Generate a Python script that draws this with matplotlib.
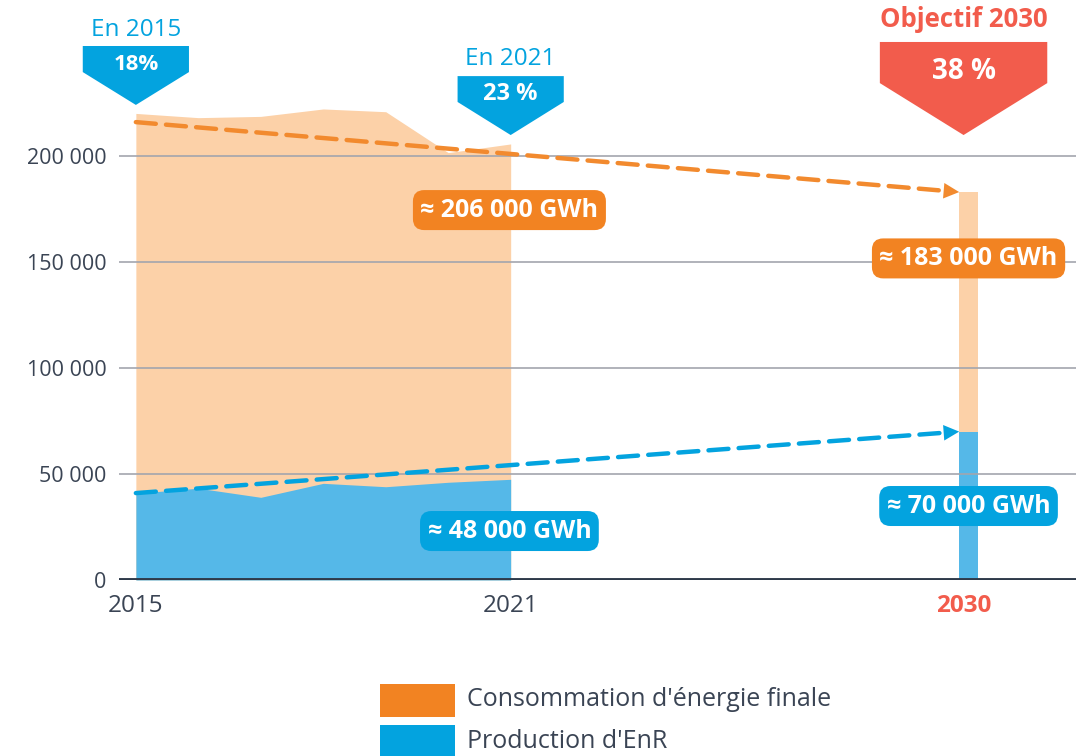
import numpy as np
import matplotlib.pyplot as plt
from matplotlib.patches import Polygon, Rectangle

plt.rcParams['font.family'] = ['Open Sans', 'DejaVu Sans']

# data
years = [2015, 2016, 2017, 2018, 2019, 2020, 2021]
consommation = [220100, 218100, 218700, 222200, 220900, 201600, 205700]
production_enr = [40900, 43300, 39000, 45600, 44000, 46100, 47500]
target_year = 2030
target_consommation = 183000
target_enr = 70000
trend_cons = [216000, 183000]
trend_enr = [41000, 70000]
banner_titles = ['En 2015', 'En 2021', 'Objectif 2030']
banner_values = ['18%', '23 %', '38 %']
label_cons = ['≈ 206 000 GWh', '≈ 183 000 GWh']
label_enr = ['≈ 48 000 GWh', '≈ 70 000 GWh']
yticks = [0, 50000, 100000, 150000, 200000]

# colours
c_orange = '#F28322'
c_orange_light = '#FCD1A8'
c_blue = '#03A3DF'
c_blue_light = '#55B8E8'
c_red = '#F25C4C'
c_text = '#3A4454'

# the x axis is broken: 2015-2021 linear, 2030 placed further right
x = np.array(years) - years[0]
x_2030 = 13.33
bar_w = 0.3

fig = plt.figure(figsize=(10.76, 7.56), dpi=100)
ax = fig.add_axes([119 / 1076, 176 / 756, 1 - 119 / 1076, 580 / 756])
ax.set_xlim(-0.27, 15.05)
ax.set_ylim(0, 273600)

# areas
ax.fill_between(x, 0, consommation, color=c_orange_light, lw=0, zorder=1)
ax.fill_between(x, 0, production_enr, color=c_blue_light, lw=0, zorder=1)

# 2030 target bar
ax.bar(x_2030, target_consommation, width=bar_w, color=c_orange_light, zorder=1)
ax.bar(x_2030, target_enr, width=bar_w, color=c_blue_light, zorder=1)

# grid
for t in yticks[1:]:
    ax.axhline(t, color='#A3A5AE', lw=1.2, zorder=2)
ax.axhline(0, color='#2E3A4A', lw=2.8, zorder=5)

# dashed trends with arrowheads
x_end = x_2030 - bar_w / 2
for vals, col in [(trend_cons, '#F28A2E'), (trend_enr, c_blue)]:
    ax.plot([0, x_end - 0.25], [vals[0], vals[0] + (vals[1] - vals[0]) * (x_end - 0.25) / x_end],
            color=col, lw=3.2, ls=(0, (4.5, 2.3)), solid_capstyle='round',
            dash_capstyle='round', zorder=4)
    ax.annotate('', xy=(x_end, vals[1]),
                xytext=(x_end - 0.4, vals[0] + (vals[1] - vals[0]) * (x_end - 0.4) / x_end),
                arrowprops=dict(arrowstyle='-|>', color=col, lw=0, mutation_scale=28,
                                shrinkA=0, shrinkB=0), zorder=4)

# value labels
def value_box(xp, yp, txt, col):
    ax.text(xp, yp, txt, ha='center', va='center', color='white', fontsize=18,
            fontweight='bold', zorder=6,
            bbox=dict(boxstyle='round,pad=0.3,rounding_size=0.45', fc=col, ec='none'))

value_box(5.98, 174500, label_cons[0], c_orange)
value_box(x_2030, 151700, label_cons[1], c_orange)
value_box(5.98, 23100, label_enr[0], c_blue)
value_box(x_2030, 34900, label_enr[1], c_blue)

# banners (pentagon arrows)
def banner(xc, half_w, top, shoulder, tip, col, title, value, title_col, title_y,
           value_y, title_weight, title_size, value_size):
    poly = Polygon([(xc - half_w, top), (xc + half_w, top), (xc + half_w, shoulder),
                    (xc, tip), (xc - half_w, shoulder)], closed=True, fc=col, ec='none',
                   zorder=6, clip_on=False)
    ax.add_patch(poly)
    ax.text(xc, value_y, value, ha='center', va='center', color='white',
            fontsize=value_size, fontweight='bold', zorder=7)
    ax.text(xc, title_y, title, ha='center', va='center', color=title_col,
            fontsize=title_size, fontweight=title_weight, zorder=7)

banner(0, 0.85, 251900, 239600, 224100, c_blue, banner_titles[0], banner_values[0],
       c_blue, 259400, 243400, 'normal', 17.5, 16)
banner(6, 0.85, 237700, 225500, 209900, c_blue, banner_titles[1], banner_values[1],
       c_blue, 245800, 229300, 'normal', 17.5, 17)
banner(x_2030 - 0.08, 1.34, 253800, 234400, 209900, c_red, banner_titles[2], banner_values[2],
       c_red, 264200, 240100, 'bold', 18.5, 20)

# axes styling
for s in ax.spines.values():
    s.set_visible(False)
ax.set_yticks(yticks)
ax.set_yticklabels([f'{t:,}'.replace(',', ' ') for t in yticks], fontsize=15.5, color=c_text)
ax.tick_params(axis='y', length=0, pad=9)
ax.set_xticks([0, 6, x_2030 - 0.08])
ax.set_xticklabels(['2015', '2021', '2030'], fontsize=17.5, color=c_text)
ax.get_xticklabels()[2].set_color(c_red)
ax.get_xticklabels()[2].set_fontweight('bold')
ax.tick_params(axis='x', length=0, pad=10)

# legend
fig.patches.append(Rectangle((380 / 1076, 1 - 717 / 756), 75 / 1076, 33 / 756,
                             transform=fig.transFigure, fc=c_orange, ec='none'))
fig.patches.append(Rectangle((380 / 1076, 0), 75 / 1076, 31 / 756,
                             transform=fig.transFigure, fc=c_blue, ec='none'))
fig.text(467 / 1076, 1 - 700 / 756, "Consommation d'énergie finale", fontsize=18,
         color=c_text, va='center')
fig.text(467 / 1076, 1 - 741 / 756, "Production d'EnR", fontsize=18,
         color=c_text, va='center')

fig.savefig('out.png', dpi=100)
